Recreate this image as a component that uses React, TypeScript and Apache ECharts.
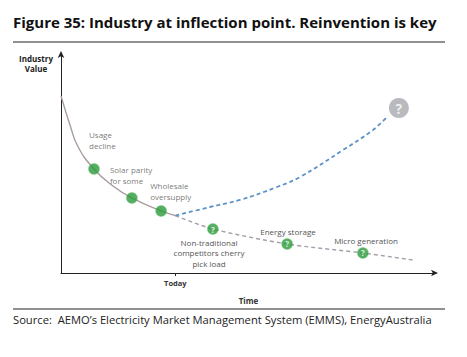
import React, { useEffect, useRef } from "react";
import * as echarts from "echarts";

const title = "Figure 35: Industry at inflection point. Reinvention is key";
const source = "Source:  AEMO\u2019s Electricity Market Management System (EMMS), EnergyAustralia";

// History curve (time, industry value)
const historyCurve: [number, number][] = [
  [0, 80.5], [2.4, 67.3], [4.5, 57.5], [8.8, 47.3], [13.5, 40], [18.9, 34.1], [26.7, 28.2], [30.5, 26.1],
];
const historyEvents: [number, number][] = [[8.8, 47.3], [18.9, 34.1], [26.7, 28.2]];
const historyLabels = ["Usage\ndecline", "Solar parity\nfor some", "Wholesale\noversupply"];

// Decline path (gray dashed)
const declineCurve: [number, number][] = [
  [30.5, 26.1], [40.5, 20], [60.3, 13.2], [80.5, 9.1], [93.9, 5.9],
];
const threatPoints: [number, number][] = [[40.5, 20], [60.3, 13.2], [80.5, 9.1]];
const threatLabels = ["Non-traditional\ncompetitors cherry\npick load", "Energy storage", "Micro generation"];

// Reinvention path (blue dashed)
const reinventCurve: [number, number][] = [
  [30.5, 26.1], [39.7, 30], [47.7, 33.2], [57.6, 39.1], [63.7, 43.6], [75.2, 55.9], [83.2, 65], [87.2, 71.4],
];
const unknownPoint: [number, number][] = [[90.1, 75]];

const today = 30.5;

export default function App() {
  const ref = useRef<HTMLDivElement>(null);
  useEffect(() => {
    const chart = echarts.init(ref.current!, null, { renderer: "svg" });
    const labelFont = { fontFamily: "Open Sans", fontSize: 8, color: "#555", lineHeight: 11 };
    const labelPos: [number, number][] = [[1, -34], [-16, -28], [-5, -25]];
    chart.setOption({
      animation: false,
      backgroundColor: "#fff",
      grid: { left: 61, top: 53, width: 375, height: 220, containLabel: false },
      xAxis: {
        type: "value", min: 0, max: 100,
        splitLine: { show: false },
        axisLine: { show: true, lineStyle: { color: "#222", width: 1 }, symbol: ["none", "arrow"], symbolSize: [5, 7], symbolOffset: [0, 2] },
        axisTick: { show: true, customValues: [today], length: 3, lineStyle: { color: "#222" } },
        axisLabel: {
          show: true, customValues: [today], formatter: () => "Today",
          fontFamily: "Open Sans", fontSize: 7.5, fontWeight: "bold", color: "#333", margin: 6,
        },
        name: "Time", nameLocation: "middle", nameGap: 23,
        nameTextStyle: { fontFamily: "Open Sans", fontSize: 8, fontWeight: "bold", color: "#333" },
      },
      yAxis: {
        type: "value", min: 0, max: 100,
        splitLine: { show: false },
        axisLine: { show: true, lineStyle: { color: "#222", width: 1 }, symbol: ["none", "arrow"], symbolSize: [5, 7], symbolOffset: [0, 2] },
        axisTick: { show: false },
        axisLabel: { show: false },
      },
      series: [
        {
          type: "line", data: historyCurve, smooth: 0.5, symbol: "none",
          lineStyle: { color: "#a89c9c", width: 1.4 }, z: 2,
        },
        {
          type: "line", data: declineCurve, smooth: 0.3, symbol: "none",
          lineStyle: { color: "#a79fab", width: 1.4, type: [4, 3] }, z: 2,
        },
        {
          type: "line", data: reinventCurve, smooth: 0.4, symbol: "none",
          lineStyle: { color: "#5b92c8", width: 1.8, type: [4, 3] }, z: 2,
        },
        {
          type: "scatter", symbol: "circle", symbolSize: 11, z: 4,
          itemStyle: { color: "#2a9b3c", borderColor: "rgba(120,200,120,0.5)", borderWidth: 1 },
          data: historyEvents.map((p, i) => ({
            value: p,
            label: {
              show: true, formatter: historyLabels[i], ...labelFont,
              position: labelPos[i], align: "left",
            },
          })),
        },
        {
          type: "scatter", symbol: "circle", symbolSize: 11, z: 4,
          itemStyle: { color: "#2a9b3c", borderColor: "rgba(120,200,120,0.5)", borderWidth: 1 },
          label: {
            show: true, position: "inside", formatter: "?",
            fontFamily: "Open Sans", fontSize: 8, fontWeight: "bold", color: "#fff",
          },
          data: threatPoints.map((p) => ({ value: p })),
        },
        {
          type: "scatter", symbol: "circle", symbolSize: 20, z: 4,
          itemStyle: { color: "#a6a9ac" },
          label: {
            show: true, position: "inside", formatter: "?",
            fontFamily: "Open Sans", fontSize: 14, fontWeight: "bold", color: "#fff",
          },
          data: unknownPoint,
        },
      ],
      graphic: [
        {
          type: "text", left: 13, top: 14,
          style: { text: title, font: "bold 15px 'Open Sans'", fill: "#111" },
        },
        { type: "line", shape: { x1: 13, y1: 42, x2: 445, y2: 42 }, style: { stroke: "#222", lineWidth: 1 } },
        {
          type: "text", x: 36, y: 53,
          style: { text: "Industry\nValue", font: "bold 8px 'Open Sans'", fill: "#222", align: "center", lineHeight: 10 },
        },
        { type: "text", x: 209, y: 237, style: { text: threatLabels[0], font: "8px 'Open Sans'", fill: "#555", align: "center", lineHeight: 10.5 } },
        { type: "text", x: 288, y: 227, style: { text: threatLabels[1], font: "8px 'Open Sans'", fill: "#555", align: "center" } },
        { type: "text", x: 366, y: 236, style: { text: threatLabels[2], font: "8px 'Open Sans'", fill: "#555", align: "center" } },
        { type: "line", shape: { x1: 13, y1: 309, x2: 445, y2: 309 }, style: { stroke: "#222", lineWidth: 1 } },
        {
          type: "text", left: 13, top: 314,
          style: { text: source, font: "11.2px 'Open Sans'", fill: "#222" },
        },
      ],
    });
    return () => chart.dispose();
  }, []);
  return (
    <div style={{ position: "absolute", left: 0, top: 0, width: 467, height: 357 }}>
      <div ref={ref} style={{ width: 467, height: 357 }} />
    </div>
  );
}
